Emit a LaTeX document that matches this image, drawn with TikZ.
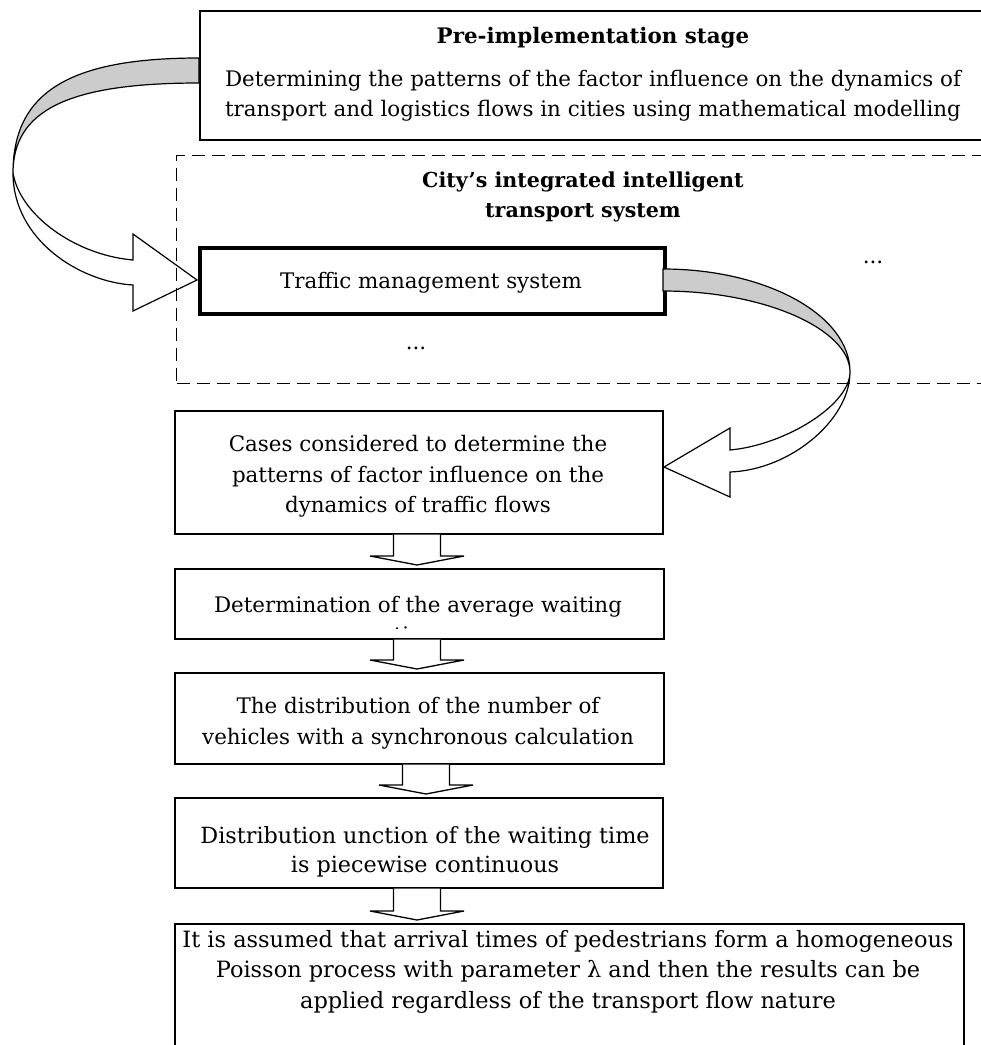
\documentclass[tikz,border=0pt]{standalone}
\usepackage{fontspec}
\setmainfont{DejaVu Serif}
\usetikzlibrary{calc}
\definecolor{bandgray}{gray}{0.8}
\newcommand\blockdown[3]{%
  \pgfmathsetmacro\bdl{#3-23.5}\pgfmathsetmacro\bdr{#3+23.5}%
  \pgfmathsetmacro\bwl{#3-47}\pgfmathsetmacro\bwr{#3+47}%
  \draw[barrow] (\bdl,0 |- #1.south) -- ($(\bdl,0 |- #2.north)+(0,-12)$)
    -- ($(\bwl,0 |- #2.north)+(0,-12)$) -- ($(#3,0 |- #2.north)+(0,-3)$)
    -- ($(\bwr,0 |- #2.north)+(0,-12)$) -- ($(\bdr,0 |- #2.north)+(0,-12)$)
    -- (\bdr,0 |- #1.south);}
\begin{document}
\begin{tikzpicture}[x=1pt,y=-1pt,
  box/.style={draw, line width=1.6pt, fill=white, inner sep=0pt, anchor=north west},
  txt/.style={font=\fontsize{21.4}{30.5}\selectfont, align=center, inner sep=0pt},
  hdr/.style={font=\fontsize{21.4}{30}\selectfont\bfseries, align=center, inner sep=0pt},
  barrow/.style={draw, line width=1.3pt, fill=white, line join=miter},
  band/.style={draw, line width=1.2pt, fill=bandgray},
  ribbon/.style={draw, line width=1.2pt, fill=white, line join=miter}]
\useasboundingbox (0,0) rectangle (981,1045);
\clip (0,0) rectangle (981,1045);

% boxes
\node[box, minimum width=790pt, minimum height=129pt] (pre) at (199,10) {};
\node[box, line width=3.8pt, minimum width=465pt, minimum height=66pt] (tms) at (198,246) {};
\node[box, minimum width=488pt, minimum height=123pt] (cases) at (174,410) {};
\node[box, minimum width=489pt, minimum height=70pt] (det) at (174,568) {};
\node[box, minimum width=489pt, minimum height=91pt] (dist) at (174,672) {};
\node[box, minimum width=488pt, minimum height=90pt] (func) at (174,797) {};
\node[box, minimum width=789pt, minimum height=160pt] (last) at (174,923) {};

% texts
\node[hdr, anchor=base] (pret) at (593,43) {Pre-implementation stage};
\node[txt] (preb) at (593,95.9) {Determining the patterns of the factor influence on the dynamics of\\transport and logistics flows in cities using mathematical modelling};
\node[hdr, font=\fontsize{20.6}{30}\selectfont\bfseries] (itst) at (583,197.4) {City’s integrated intelligent\\transport system};
\node[txt, anchor=base] (tmst) at (431,288) {Traffic management system};
\node[txt, anchor=base] (dots1) at (416,349) {...};
\node[txt, anchor=base] (dots2) at (873,263) {...};
\node[txt] (casest) at (418,476.4) {Cases considered to determine the\\patterns of factor influence on the\\dynamics of traffic flows};
\node[txt, anchor=base] (dett) at (418,612) {Determination of the average waiting};
\begin{scope}
  \clip (174,568) rectangle (663,628.5);
  \node[txt, anchor=base] (dett2) at (418,642) {time};
\end{scope}
\node[txt] (distt) at (418,723.4) {The distribution of the number of\\vehicles with a synchronous calculation};
\node[txt, font=\fontsize{22.3}{29.5}\selectfont] (funct) at (425,851.7) {Distribution unction of the waiting time\\is piecewise continuous};
\node[txt, font=\fontsize{22.45}{30.5}\selectfont] (lastt) at (568,971.6) {It is assumed that arrival times of pedestrians form a homogeneous\\Poisson process with parameter λ and then the results can be\\applied regardless of the transport flow nature};

% straight block arrows
\blockdown{cases}{det}{417}
\blockdown{det}{dist}{417}
\blockdown{dist}{func}{426}
\blockdown{func}{last}{417}

% curved arrow: pre -> tms
\draw[band] (199,58) .. controls (69,58) and (13,92.5) .. (13,173)
  .. controls (13,110) and (69,83) .. (199,83) -- cycle;
\draw[ribbon] (13,173) .. controls (20,215) and (75,255) .. (133,260)
  -- (133,234) -- (197,280) -- (133,311) -- (133,285)
  .. controls (80,282) and (13,240) .. (13,173) -- cycle;

% curved arrow: tms -> cases
\draw[band] (663,269) .. controls (766,269) and (850,315) .. (850,372)
  .. controls (850,330) and (766,291) .. (663,291) -- cycle;
\draw[ribbon] (850,372) .. controls (850,405) and (785,445) .. (730,450)
  -- (730,428) -- (664,467) -- (730,497) -- (730,472)
  .. controls (790,470) and (850,420) .. (850,372) -- cycle;

% dashed system frame
\node[draw, dash pattern=on 13pt off 7pt, line width=1.4pt, inner sep=0pt,
  anchor=north west, minimum width=830pt, minimum height=228pt] (its) at (176,155) {};
\end{tikzpicture}
\end{document}
